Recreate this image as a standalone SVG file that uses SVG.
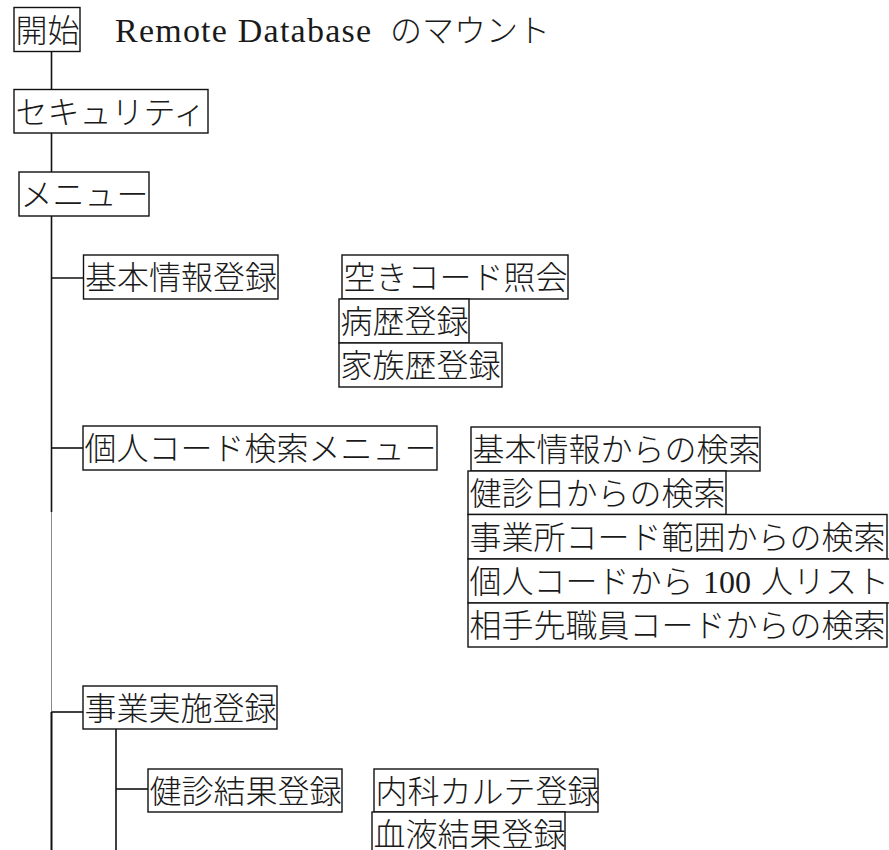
<svg xmlns="http://www.w3.org/2000/svg" width="889" height="850" viewBox="0 0 889 850">
<style>
  .node rect { fill: #ffffff; stroke: #111111; stroke-width: 1.4; }
  .node text, .title { font-family: "Noto Sans CJK JP", "Noto Sans", sans-serif; font-size: 32px; font-weight: 300; fill: #1a1a1a; }
  .latin { font-family: "Liberation Serif", serif; font-weight: 400; }
  .conn line { stroke: #111111; stroke-width: 1.6; }
  .conn line.thin { stroke: #888888; stroke-width: 1; }
</style>
<rect x="0" y="0" width="889" height="850" fill="#ffffff"/>
<g id="connectors" class="conn">
  <line x1="51.5" y1="52" x2="51.5" y2="89.5"/>
  <line x1="51.5" y1="133" x2="51.5" y2="172"/>
  <line x1="51.5" y1="216" x2="51.5" y2="512"/>
  <line class="thin" x1="51.5" y1="512" x2="51.5" y2="712"/>
  <line x1="51.5" y1="712" x2="51.5" y2="850" style="stroke-width:2"/>
  <line x1="51.5" y1="278" x2="83.5" y2="278"/>
  <line x1="51.5" y1="448" x2="83" y2="448"/>
  <line x1="51.5" y1="712" x2="83" y2="712"/>
  <line x1="116" y1="729" x2="116" y2="850"/>
  <line x1="116" y1="789" x2="148" y2="789"/>
</g>
<g id="node-start" class="node"><rect x="14" y="7.5" width="66" height="44"/><text x="15.5" y="41.8">開始</text></g>
<text class="title" x="115" y="41.5"><tspan class="latin" style="font-size:34px" textLength="256" lengthAdjust="spacing">Remote Database</tspan><tspan x="390">のマウント</tspan></text>
<g id="node-security" class="node"><rect x="14" y="89.5" width="194" height="43.5"/><text x="15.5" y="123.5">セキュリティ</text></g>
<g id="node-menu" class="node"><rect x="19" y="172" width="130" height="44"/><text x="20.5" y="206.3">メニュー</text></g>
<g id="node-kihon" class="node"><rect x="83.5" y="255" width="194.5" height="44"/><text x="85" y="289.3">基本情報登録</text></g>
<g id="node-aki" class="node"><rect x="342" y="255" width="226" height="44"/><text x="343.5" y="289.3">空きコード照会</text></g>
<g id="node-byoreki" class="node"><rect x="339" y="299" width="130" height="44"/><text x="340.5" y="333.3">病歴登録</text></g>
<g id="node-kazoku" class="node"><rect x="339" y="343" width="163" height="44"/><text x="340.5" y="377.3">家族歴登録</text></g>
<g id="node-kojin-menu" class="node"><rect x="83" y="426" width="354" height="44"/><text x="84.5" y="460.3">個人コード検索メニュー</text></g>
<g id="node-search-kihon" class="node"><rect x="471" y="427" width="289" height="44"/><text x="472.5" y="461.3">基本情報からの検索</text></g>
<g id="node-search-date" class="node"><rect x="468" y="471" width="258" height="43.5"/><text x="469.5" y="505">健診日からの検索</text></g>
<g id="node-search-range" class="node"><rect x="468" y="514.5" width="419" height="44.5"/><text x="469.5" y="549">事業所コード範囲からの検索</text></g>
<g id="node-search-100" class="node"><rect x="468" y="559" width="426" height="44"/><text x="469.5" y="593.3">個人コードから<tspan class="latin" x="703">100</tspan><tspan x="761">人リスト</tspan></text></g>
<g id="node-search-staff" class="node"><rect x="468" y="603" width="419" height="44"/><text x="469.5" y="637.3">相手先職員コードからの検索</text></g>
<g id="node-jigyo" class="node"><rect x="83" y="686" width="194" height="43"/><text x="84.5" y="720">事業実施登録</text></g>
<g id="node-kenshin" class="node"><rect x="148" y="769" width="194" height="43"/><text x="149.5" y="803">健診結果登録</text></g>
<g id="node-naika" class="node"><rect x="374" y="769" width="224" height="43"/><text x="375.5" y="803">内科カルテ登録</text></g>
<g id="node-ketsueki" class="node"><rect x="372" y="812" width="193" height="44"/><text x="373.5" y="845.5">血液結果登録</text></g>
</svg>
